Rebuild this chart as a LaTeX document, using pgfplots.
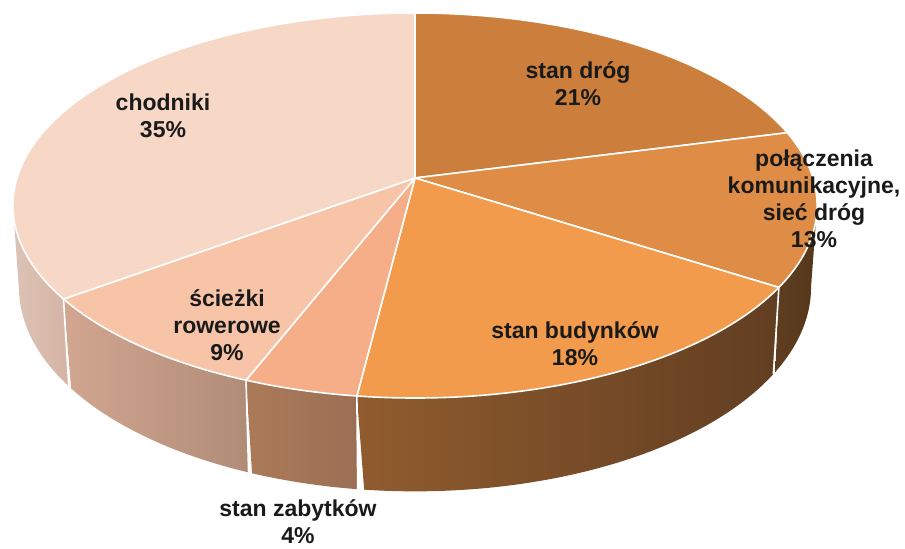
\documentclass[border=0pt]{standalone}
\usepackage{fontspec}
\setmainfont{Liberation Sans}
\usepackage{pgfplots}
\usepackage{pgfplotstable}
\pgfplotsset{compat=1.18}

\definecolor{t1}{HTML}{CC7F3C}
\definecolor{t2}{HTML}{DF8C47}
\definecolor{t3}{HTML}{F29B4C}
\definecolor{t4}{HTML}{F5AE88}
\definecolor{t5}{HTML}{F7C4A8}
\definecolor{t6}{HTML}{F7D7C5}
\definecolor{s2l}{HTML}{5E3D20}
\definecolor{s2r}{HTML}{573719}
\definecolor{s3l}{HTML}{905C2E}
\definecolor{s3m}{HTML}{664023}
\definecolor{s3r}{HTML}{623E22}
\definecolor{s4l}{HTML}{AC7A58}
\definecolor{s4r}{HTML}{9B6F55}
\definecolor{s5l}{HTML}{D2A690}
\definecolor{s5r}{HTML}{B08C78}
\definecolor{s6l}{HTML}{DCC3B6}
\definecolor{s6r}{HTML}{D5B4A4}
\definecolor{txt}{HTML}{1A1A1A}

% shares in percent, clockwise from 12 o'clock
\pgfplotstableread{
pct
21
13
18
4
9
35
}\piedata

\pgfplotstablegetelem{0}{pct}\of\piedata\let\pA\pgfplotsretval
\pgfplotstablegetelem{1}{pct}\of\piedata\let\pB\pgfplotsretval
\pgfplotstablegetelem{2}{pct}\of\piedata\let\pC\pgfplotsretval
\pgfplotstablegetelem{3}{pct}\of\piedata\let\pD\pgfplotsretval
\pgfplotstablegetelem{4}{pct}\of\piedata\let\pE\pgfplotsretval
\pgfplotstablegetelem{5}{pct}\of\piedata\let\pF\pgfplotsretval
\pgfmathsetmacro\bA{3.6*\pA}
\pgfmathsetmacro\bB{\bA+3.6*\pB}
\pgfmathsetmacro\bC{\bB+3.6*\pC}
\pgfmathsetmacro\bD{\bC+3.6*\pD}
\pgfmathsetmacro\bE{\bD+3.6*\pE}
\pgfmathsetmacro\bF{\bE+3.6*\pF}
\pgfmathsetmacro\sR{acos(-0.142857)}
\pgfmathsetmacro\sL{360-\sR}

\newcommand\lab{\fontsize{11.5}{13.6}\selectfont\bfseries}

\begin{document}
\begin{tikzpicture}
\begin{axis}[name=ax, scale only axis, width=452.5pt, height=274.5pt,
  xmin=0, xmax=905, ymin=0, ymax=549, y dir=reverse, hide axis, clip=true,
  declare function={
    px(\t)=415+398*sin(\t)/(1+0.142857*cos(\t));
    py(\t)=178-188.6*cos(\t)/(1+0.142857*cos(\t));
    bx(\t)=415+392*sin(\t)/(1+0.142857*cos(\t));
    by(\t)=178+(80-188.6*cos(\t))/(1+0.142857*cos(\t));
    sth(\s,\a,\b)=\a+(\b-\a)*min(\s,2-\s);
    sx(\s,\a,\b)=px(sth(\s,\a,\b))+(bx(sth(\s,\a,\b))-px(sth(\s,\a,\b)))*(\s>1);
    sy(\s,\a,\b)=py(sth(\s,\a,\b))+(by(sth(\s,\a,\b))-py(sth(\s,\a,\b)))*(\s>1);
  }]
% side walls
\addplot[draw=none, left color=s2l, right color=s2r, domain=0:2, samples=81] ({sx(x,\sR,\bB)},{sy(x,\sR,\bB)}) -- cycle;
\addplot[draw=none, left color=s3l, middle color=s3m, right color=s3r, domain=0:2, samples=161] ({sx(x,\bB,\bC)},{sy(x,\bB,\bC)}) -- cycle;
\addplot[draw=none, left color=s4l, right color=s4r, domain=0:2, samples=61] ({sx(x,\bC,\bD)},{sy(x,\bC,\bD)}) -- cycle;
\addplot[draw=none, left color=s5l, right color=s5r, domain=0:2, samples=101] ({sx(x,\bD,\bE)},{sy(x,\bD,\bE)}) -- cycle;
\addplot[draw=none, left color=s6l, right color=s6r, domain=0:2, samples=81] ({sx(x,\bE,\sL)},{sy(x,\bE,\sL)}) -- cycle;
% vertical separators on the wall
\addplot[white, line width=0.8pt, domain=0:1, samples=2] ({px(\bB)+x*(bx(\bB)-px(\bB))},{py(\bB)+x*(by(\bB)-py(\bB))});
\addplot[white, line width=0.8pt, domain=0:1, samples=2] ({px(\bC)+x*(bx(\bC)-px(\bC))},{py(\bC)+x*(by(\bC)-py(\bC))});
\addplot[white, line width=0.8pt, domain=0:1, samples=2] ({px(\bD)+x*(bx(\bD)-px(\bD))},{py(\bD)+x*(by(\bD)-py(\bD))});
\addplot[white, line width=0.8pt, domain=0:1, samples=2] ({px(\bE)+x*(bx(\bE)-px(\bE))},{py(\bE)+x*(by(\bE)-py(\bE))});
% top wedges
\addplot[fill=t1, draw=white, line width=0.8pt, line join=round, domain=0:\bA, samples=60] ({px(x)},{py(x)}) -- (axis cs:415,178) -- cycle;
\addplot[fill=t2, draw=white, line width=0.8pt, line join=round, domain=\bA:\bB, samples=40] ({px(x)},{py(x)}) -- (axis cs:415,178) -- cycle;
\addplot[fill=t3, draw=white, line width=0.8pt, line join=round, domain=\bB:\bC, samples=60] ({px(x)},{py(x)}) -- (axis cs:415,178) -- cycle;
\addplot[fill=t4, draw=white, line width=0.8pt, line join=round, domain=\bC:\bD, samples=20] ({px(x)},{py(x)}) -- (axis cs:415,178) -- cycle;
\addplot[fill=t5, draw=white, line width=0.8pt, line join=round, domain=\bD:\bE, samples=30] ({px(x)},{py(x)}) -- (axis cs:415,178) -- cycle;
\addplot[fill=t6, draw=white, line width=0.8pt, line join=round, domain=\bE:\bF, samples=90] ({px(x)},{py(x)}) -- (axis cs:415,178) -- cycle;
% labels
\node[font=\lab, align=center, text=txt] at (axis cs:578,84) {stan dróg\\21\%};
\node[font=\lab, align=center, text=txt] at (axis cs:814,199) {połączenia\\komunikacyjne,\\sieć dróg\\13\%};
\node[font=\lab, align=center, text=txt] at (axis cs:575,344) {stan budynków\\18\%};
\node[font=\lab, align=center, text=txt] at (axis cs:298,522) {stan zabytków\\4\%};
\node[font=\lab, align=center, text=txt] at (axis cs:227,325) {ścieżki\\rowerowe\\9\%};
\node[font=\lab, align=center, text=txt] at (axis cs:163,116) {chodniki\\35\%};
\end{axis}
\pgfresetboundingbox
\useasboundingbox (ax.south west) rectangle (ax.north east);
\end{tikzpicture}
\end{document}
